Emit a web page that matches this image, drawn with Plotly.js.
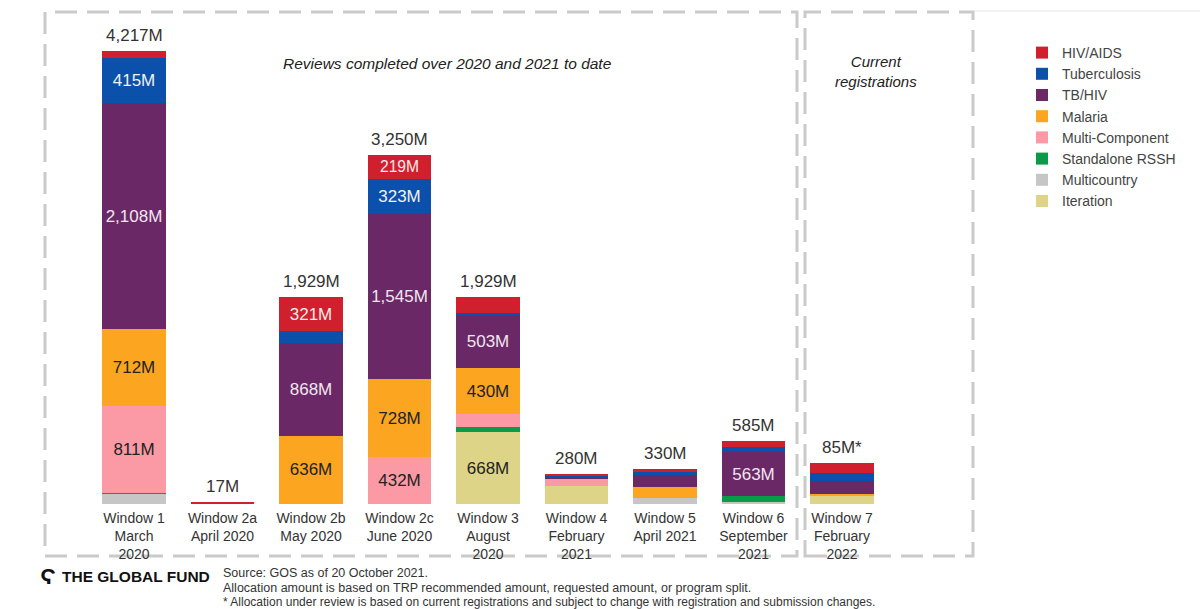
<!DOCTYPE html>
<html>
<head>
<meta charset="utf-8">
<script src="https://cdn.plot.ly/plotly-3.0.1.min.js"></script>
<style>
html,body{margin:0;padding:0;background:#fff;}
#chart{width:1200px;height:609px;}
</style>
</head>
<body>
<div id="chart"></div>
<script>
// ---- data ----
const categories = [
  'Window 1<br>March<br>2020', 'Window 2a<br>April 2020', 'Window 2b<br>May 2020',
  'Window 2c<br>June 2020', 'Window 3<br>August<br>2020', 'Window 4<br>February<br>2021',
  'Window 5<br>April 2021', 'Window 6<br>September<br>2021', 'Window 7<br>February<br>2022'
];
const hivAids        = [65, 17, 321, 219, 150, 20, 30, 51, 21];
const tuberculosis   = [415, 0, 104, 323, 12, 10, 32, 51, 17];
const tbHiv          = [2108, 0, 868, 1545, 503, 10, 110, 407, 26];
const malaria        = [712, 0, 636, 728, 430, 0, 98, 0, 4];
const multiComponent = [811, 0, 0, 432, 118, 75, 0, 0, 0];
const standaloneRSSH = [12, 0, 0, 0, 48, 0, 0, 59, 0];
const multicountry   = [94, 0, 0, 3, 0, 0, 60, 17, 0];
const iteration      = [0, 0, 0, 0, 668, 165, 0, 0, 17];

const hivAidsLabels   = ['', '', '321M', '219M', '', '', '', '', ''];
const tbLabels        = ['415M', '', '', '323M', '', '', '', '', ''];
const tbHivLabels     = ['2,108M', '', '868M', '1,545M', '503M', '', '', '563M', ''];
const malariaLabels   = ['712M', '', '636M', '728M', '430M', '', '', '', ''];
const multiCompLabels = ['811M', '', '', '432M', '', '', '', '', ''];
const iterationLabels = ['', '', '', '', '668M', '', '', '', ''];
const emptyLabels     = ['', '', '', '', '', '', '', '', ''];

const totalLabels = ['4,217M', '17M', '1,929M', '3,250M', '1,929M', '280M', '330M', '585M', '85M*'];

const sourceLines = [
  'Source: GOS as of 20 October 2021.',
  'Allocation amount is based on TRP recommended amount, requested amount, or program split.',
  '* Allocation under review is based on current registrations and subject to change with registration and submission changes.'
];

// ---- series (stack order bottom -> top) ----
const series = [
  {name: 'Multicountry',    y: multicountry,   text: emptyLabels,     color: '#c6c6c6', tc: '#222', rank: 7},
  {name: 'Iteration',       y: iteration,      text: iterationLabels, color: '#ded487', tc: '#222', rank: 8},
  {name: 'Standalone RSSH', y: standaloneRSSH, text: emptyLabels,     color: '#0b9a47', tc: '#fff', rank: 6},
  {name: 'Multi-Component', y: multiComponent, text: multiCompLabels, color: '#fb9aa5', tc: '#222', rank: 5},
  {name: 'Malaria',         y: malaria,        text: malariaLabels,   color: '#fba521', tc: '#222', rank: 4},
  {name: 'TB/HIV',          y: tbHiv,          text: tbHivLabels,     color: '#6b2866', tc: '#f1e6f0', rank: 3},
  {name: 'Tuberculosis',    y: tuberculosis,   text: tbLabels,        color: '#0b50ab', tc: '#f1f1f8', rank: 2},
  {name: 'HIV/AIDS',        y: hivAids,        text: hivAidsLabels,   color: '#d01f2d', tc: '#f8eaea', rank: 1}
];

const FONT = 'Liberation Sans, Arial, sans-serif';
const MAIN = 8; // first 8 windows on the main scale; Window 7 in its own box/scale
const traces = [];
series.forEach(s => {
  traces.push({
    type: 'bar', name: s.name, x: categories.slice(0, MAIN), y: s.y.slice(0, MAIN),
    text: s.text.slice(0, MAIN), textposition: 'inside', insidetextanchor: 'middle',
    textangle: 0, textfont: {size: 17, color: s.tc, family: FONT},
    marker: {color: s.color, line: {width: 0}}, width: 0.72, legendrank: s.rank,
    hoverinfo: 'name+y', xaxis: 'x', yaxis: 'y'
  });
  traces.push({
    type: 'bar', name: s.name, x: categories.slice(MAIN), y: s.y.slice(MAIN),
    text: s.text.slice(MAIN), textposition: 'inside', insidetextanchor: 'middle',
    textangle: 0, textfont: {size: 17, color: s.tc, family: FONT},
    marker: {color: s.color, line: {width: 0}}, width: 0.72, showlegend: false,
    hoverinfo: 'name+y', xaxis: 'x', yaxis: 'y2'
  });
});

const totals = categories.map((c, i) => series.reduce((a, s) => a + s.y[i], 0));

// ---- layout helpers (pixel -> paper) ----
const W = 1200, H = 609, MT = 21, MB = 105, PH = H - MT - MB;
const px = v => v / W;
const py = v => (H - MB - v) / PH;
const dashLine = {color: '#cacaca', width: 3, dash: '22px,10px'};

const totalAnnotations = categories.map((c, i) => ({
  xref: 'x', yref: i < MAIN ? 'y' : 'y2', x: c, y: totals[i], text: totalLabels[i],
  showarrow: false, xanchor: 'center', yanchor: 'bottom', yshift: 4,
  font: {size: 17, color: '#333', family: FONT}
}));

const sourceY = [573, 588, 602];
const sourceSize = [12.5, 12.5, 12];
const sourceAnnotations = sourceLines.map((t, i) => ({
  xref: 'paper', yref: 'paper', x: px(221), y: py(sourceY[i]), text: t,
  showarrow: false, font: {size: sourceSize[i], color: '#333'}, xanchor: 'left', yanchor: 'middle'
}));

const layout = {
  width: W, height: H,
  margin: {l: 0, r: 0, t: MT, b: MB, pad: 0},
  paper_bgcolor: '#fff', plot_bgcolor: 'rgba(0,0,0,0)',
  barmode: 'stack',
  font: {family: FONT, color: '#333'},
  uniformtext: {mode: 'show', minsize: 17},
  xaxis: {
    domain: [89.75 / W, 886.25 / W], type: 'category',
    categoryorder: 'array', categoryarray: categories, range: [-0.5, 8.5],
    showgrid: false, zeroline: false, showline: false, ticks: '',
    ticklabelstandoff: 4,
    tickfont: {size: 14, color: '#333'}, fixedrange: true
  },
  yaxis: {range: [0, 4500], visible: false, fixedrange: true},
  yaxis2: {range: [0, 1000], overlaying: 'y', visible: false, fixedrange: true},
  showlegend: true,
  legend: {
    x: px(1022), y: py(37), xanchor: 'left', yanchor: 'top',
    traceorder: 'normal', font: {size: 14, color: '#444'},
    bgcolor: 'rgba(0,0,0,0)', itemclick: false, itemdoubleclick: false
  },
  shapes: [
    {type: 'rect', xref: 'paper', yref: 'paper', x0: px(45), x1: px(797), y0: py(556), y1: py(12), line: dashLine, layer: 'below'},
    {type: 'rect', xref: 'paper', yref: 'paper', x0: px(805), x1: px(973), y0: py(556), y1: py(12), line: dashLine, layer: 'below'},
    {type: 'line', xref: 'paper', yref: 'paper', x0: px(975), x1: px(1200), y0: py(11), y1: py(11), line: {color: '#e4e4e4', width: 1}}
  ],
  annotations: totalAnnotations.concat(sourceAnnotations, [
    {xref: 'paper', yref: 'paper', x: px(447), y: py(64), text: '<i>Reviews completed over 2020 and 2021 to date</i>',
     showarrow: false, font: {size: 15.5, color: '#222'}, xanchor: 'center', yanchor: 'middle'},
    {xref: 'paper', yref: 'paper', x: px(876), y: py(71), text: '<i>Current<br>registrations</i>',
     showarrow: false, font: {size: 15, color: '#222'}, xanchor: 'center', yanchor: 'middle'},
    {xref: 'paper', yref: 'paper', x: px(38), y: py(576), text: '<b>Ϛ</b>',
     showarrow: false, font: {size: 22, color: '#111'}, xanchor: 'left', yanchor: 'middle'},
    {xref: 'paper', yref: 'paper', x: px(60), y: py(576), text: '<b>THE GLOBAL FUND</b>',
     showarrow: false, font: {size: 15.5, color: '#111'}, xanchor: 'left', yanchor: 'middle'}
  ])
};

Plotly.newPlot('chart', traces, layout, {displayModeBar: false, responsive: false});
</script>
</body>
</html>
